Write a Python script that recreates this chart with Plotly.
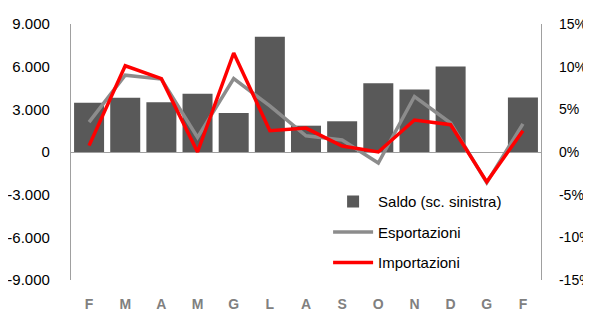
import plotly.graph_objects as go

months = ["F", "M", "A", "M", "G", "L", "A", "S", "O", "N", "D", "G", "F"]
saldo = [3470, 3820, 3490, 4100, 2740, 8110, 1850, 2160, 4830, 4400, 6020, None, 3840]
esportazioni = [3.5, 9.0, 8.55, 1.7, 8.6, 5.4, 1.9, 1.4, -1.3, 6.5, 3.4, -3.6, 3.3]
importazioni = [0.75, 10.1, 8.6, 0.0, 11.6, 2.5, 2.8, 0.7, 0.0, 3.75, 3.2, -3.5, 2.5]

left_ticks = [-9000, -6000, -3000, 0, 3000, 6000, 9000]
left_labels = ["-9.000", "-6.000", "-3.000", "0", "3.000", "6.000", "9.000"]
right_ticks = [-15, -10, -5, 0, 5, 10, 15]
right_labels = ["-15%", "-10%", "-5%", "0%", "5%", "10%", "15%"]

x = list(range(len(months)))

fig = go.Figure()
fig.add_trace(go.Bar(x=x, y=saldo, name="Saldo (sc. sinistra)", marker=dict(color="#595959", line=dict(width=0)),
                     legendgroup="a", yaxis="y"))
fig.add_trace(go.Scatter(x=x, y=esportazioni, name="Esportazioni", mode="lines",
                         line=dict(color="#8c8c8c", width=3.5), legendgroup="b", yaxis="y2"))
fig.add_trace(go.Scatter(x=x, y=importazioni, name="Importazioni", mode="lines",
                         line=dict(color="#ff0000", width=3.5), legendgroup="c", yaxis="y2"))

axis_font = dict(family="Liberation Sans, Arial, sans-serif", size=15, color="#000000")
right_font = dict(family="Liberation Sans, Arial, sans-serif", size=14, color="#000000")

fig.update_layout(
    width=583, height=303,
    margin=dict(l=63, r=50, t=16, b=31),
    paper_bgcolor="white", plot_bgcolor="white",
    bargap=0.17,
    showlegend=True,
    legend=dict(x=0.547, y=0.37, xanchor="left", yanchor="top", bgcolor="rgba(0,0,0,0)",
                font=dict(family="Liberation Sans, Arial, sans-serif", size=15, color="#000000"),
                traceorder="grouped", tracegroupgap=8, itemwidth=40),
    xaxis=dict(tickmode="array", tickvals=x, ticktext=months, range=[-0.5, len(months) - 0.5],
               showline=False, showgrid=False, zeroline=False, ticks="", automargin=False,
               ticklabelstandoff=14,
               tickfont=dict(family="Liberation Sans, Arial, sans-serif", size=14, color="#808080", weight="bold")),
    yaxis=dict(range=[-9000, 9000], tickmode="array", tickvals=left_ticks, ticktext=left_labels,
               showline=True, linecolor="#a0a0a0", linewidth=1.3, showgrid=False, automargin=False,
               zeroline=True, zerolinecolor="#a0a0a0", zerolinewidth=1.3, ticks="",
               ticklabelstandoff=17, tickfont=axis_font),
    yaxis2=dict(range=[-15, 15], overlaying="y", side="right", tickmode="array",
                tickvals=right_ticks, ticktext=right_labels, automargin=False,
                showline=True, linecolor="#a0a0a0", linewidth=1.3, showgrid=False,
                zeroline=False, ticks="", ticklabelstandoff=14, tickfont=right_font),
)

fig.write_html("out.html")
